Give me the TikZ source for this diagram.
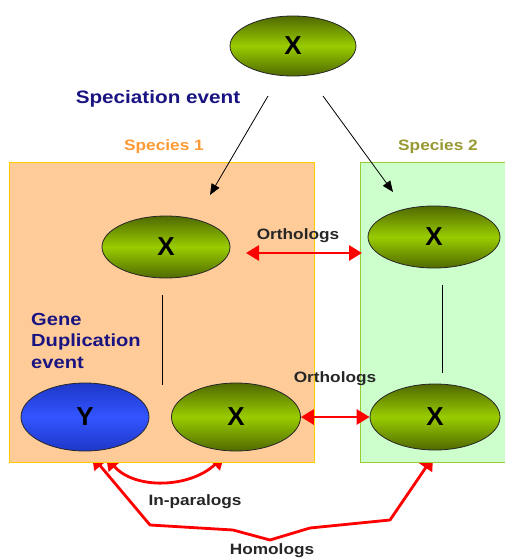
\documentclass[tikz,border=0pt]{standalone}
\usepackage{fontspec}
\usepackage{graphicx}
\setmainfont{Liberation Sans}
\usetikzlibrary{shapes.geometric,arrows.meta}
\definecolor{navy}{RGB}{25,20,130}
\definecolor{sporange}{RGB}{255,153,51}
\definecolor{spolive}{RGB}{153,153,51}
\definecolor{boxorange}{RGB}{255,204,153}
\definecolor{edgeorange}{RGB}{255,204,0}
\definecolor{boxgreen}{RGB}{204,255,204}
\definecolor{edgegreen}{RGB}{153,204,51}
\definecolor{gdark}{RGB}{80,105,0}
\definecolor{glight}{RGB}{153,204,0}
\definecolor{yblue}{RGB}{51,85,255}
\definecolor{ydark}{RGB}{30,55,200}
\newcommand\wtxt[1]{\scalebox{1.15}[1]{#1}}
\begin{document}
\begin{tikzpicture}[x=1pt,y=-1pt,
  gene/.style={ellipse, draw=black!85, line width=0.8pt, inner sep=0pt,
    top color=gdark, bottom color=gdark, middle color=glight,
    font=\bfseries\fontsize{26}{26}\selectfont},
  ygene/.style={ellipse, draw=black!85, line width=0.8pt, inner sep=0pt,
    top color=ydark, bottom color=ydark, middle color=yblue,
    font=\bfseries\fontsize{26}{26}\selectfont},
  lbl/.style={inner sep=0pt, anchor=base, font=\bfseries\fontsize{15}{18}\selectfont},
  redarrow/.style={draw=red, line width=2.8pt,
    {Triangle[length=13pt,width=15pt]}-{Triangle[length=13pt,width=15pt]}},
  blackarrow/.style={draw=black, line width=0.8pt, -{Triangle[length=11pt,width=9pt]}},
  tie/.style={draw=black, line width=1pt}
]
\useasboundingbox (0,0) rectangle (504,559);

% red homology arrows (drawn first: their heads hide under the boxes)
\coordinate (hl) at (92,456);
\coordinate (hr) at (433,457);
\coordinate (pl) at (106,457);
\coordinate (pr) at (224,456);
\draw[redarrow, line join=round] (hl) -- (150,525) -- (233,530) -- (270,540) -- (310,528) -- (390,520) -- (hr);
\draw[redarrow] (pl) .. controls (135,490) and (190,488) .. (pr);

% species boxes
\path[fill=boxorange, draw=edgeorange, line width=1pt] (9,162) rectangle (314,462);
\path[fill=boxgreen, draw=edgegreen, line width=1pt] (360,162) rectangle (508,462);

% labels
\node[lbl, text=navy, font=\bfseries\fontsize{18}{20}\selectfont] (spec) at (158,104) {\wtxt{Speciation event}};
\node[lbl, text=sporange] (sp1) at (164,150) {\wtxt{Species 1}};
\node[lbl, text=spolive] (sp2) at (438,150) {\wtxt{Species 2}};
\node[lbl, text=black!85] (orth1) at (298,239) {\wtxt{Orthologs}};
\node[lbl, text=black!85] (orth2) at (335,382) {\wtxt{Orthologs}};
\node[lbl, text=black!85] (inpar) at (195,505) {\wtxt{In-paralogs}};
\node[lbl, text=black!85] (homol) at (272,554) {\wtxt{Homologs}};
\node[inner sep=0pt, anchor=base west, text=navy, font=\bfseries\fontsize{17.5}{21.5}\selectfont] (gdup) at (31,325)
  {\wtxt{\begin{tabular}[t]{@{}l@{}}Gene\\Duplication\\event\end{tabular}}};

% vertical lineage lines
\coordinate (v1t) at (162,295);
\coordinate (v1b) at (162,385);
\coordinate (v2t) at (442,285);
\coordinate (v2b) at (442,373);
\draw[tie] (v1t) -- (v1b);
\draw[tie] (v2t) -- (v2b);

% genes
\node[gene, minimum width=126pt, minimum height=60pt] (top) at (293,46) {X};
\node[gene, minimum width=128pt, minimum height=62pt] (s1x) at (166,247) {X};
\node[gene, minimum width=132pt, minimum height=62pt] (s2x) at (434,237) {X};
\node[ygene, minimum width=128pt, minimum height=68pt] (y) at (85,417) {Y};
\node[gene, minimum width=129pt, minimum height=68pt] (b1x) at (236,417) {X};
\node[gene, minimum width=130pt, minimum height=66pt] (b2x) at (435,417) {X};

% speciation arrows
\coordinate (a1s) at (268,96);
\coordinate (a1e) at (210,195);
\coordinate (a2s) at (323,96);
\coordinate (a2e) at (393,192);
\draw[blackarrow] (a1s) -- (a1e);
\draw[blackarrow] (a2s) -- (a2e);

% ortholog arrows
\coordinate (o1l) at (246,253);
\coordinate (o1r) at (362,253);
\draw[redarrow] (o1l) -- (o1r);
\draw[redarrow] (b1x.east) -- (b2x.west);
\end{tikzpicture}
\end{document}
